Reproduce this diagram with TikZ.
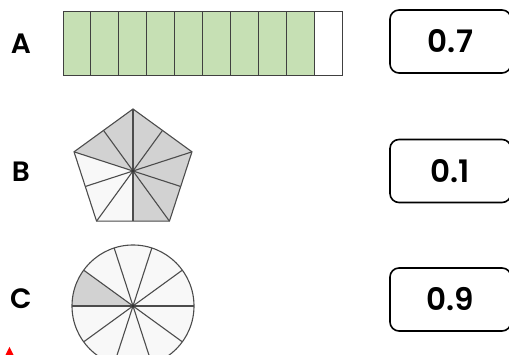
\documentclass[tikz,border=0pt]{standalone}
\usepackage{fontspec}
\setmainfont{Poppins}[BoldFont={Poppins SemiBold}]
\definecolor{barGreen}{HTML}{C6E0B4}
\definecolor{partGray}{HTML}{D2D2D2}
\definecolor{partWhite}{HTML}{F8F8F8}
\tikzset{
  letter/.style={font=\fontsize{28}{32}\selectfont\bfseries},
  valbox/.style={draw, line width=1.6pt, rounded corners=9pt,
    minimum width=121pt, minimum height=63pt, inner sep=0pt,
    font=\fontsize{31}{36}\selectfont\bfseries},
  cell/.style={draw=black!75, line width=0.9pt},
  part/.style={draw=black!70, line width=1.1pt},
}
\begin{document}
\begin{tikzpicture}[x=1pt,y=1pt]
   \useasboundingbox (0,0) rectangle (509,355);
   \foreach \n/\y/\l in {a/311/A, b/183/B, c/56/C}
     \node[letter] (lbl\n) at (21,\y) {\l};
   \foreach \n/\y/\v in {a/313.5/0.7, b/184/0.1, c/55.5/0.9}
     \node[valbox] (box\n) at (450.5,\y) {\v};
   % bar
   \fill[barGreen] (63,280) rectangle (314.1,344);
   \foreach \i in {0,...,9}
     \draw[cell] (63+27.9*\i,280) rectangle ++(27.9,64);
   % pentagon
   \begin{scope}[shift={(133,184)}]
     \fill[partWhite] (18:62) \foreach \a in {90,162,...,306} { -- (\a:62) } -- cycle;
     \fill[partGray] (0,0) -- (270:50.2) -- (306:62) -- (18:62) -- (90:62) -- (162:62) -- cycle;
     \foreach \a in {18,90,...,306} \draw[part] (0,0) -- (\a:62);
     \foreach \a in {54,126,...,342} \draw[part] (0,0) -- (\a:50.2);
     \draw[part] (18:62) \foreach \a in {90,162,...,306} { -- (\a:62) } -- cycle;
     \fill[black!80] (0,0) circle (1.6);
   \end{scope}
   % circle
   \begin{scope}[shift={(133,49)}]
     \fill[partWhite] (0,0) circle (61);
     \fill[partGray] (0,0) -- (144:61) arc (144:180:61) -- cycle;
     \foreach \a in {0,36,...,144} \draw[part] (\a:61) -- (\a+180:61);
     \draw[part] (0,0) circle (61);
     \fill[black!80] (0,0) circle (1.6);
   \end{scope}
   \fill[red] (5.5,0) -- (9.5,8) -- (13.5,0) -- cycle;
\end{tikzpicture}
\end{document}
